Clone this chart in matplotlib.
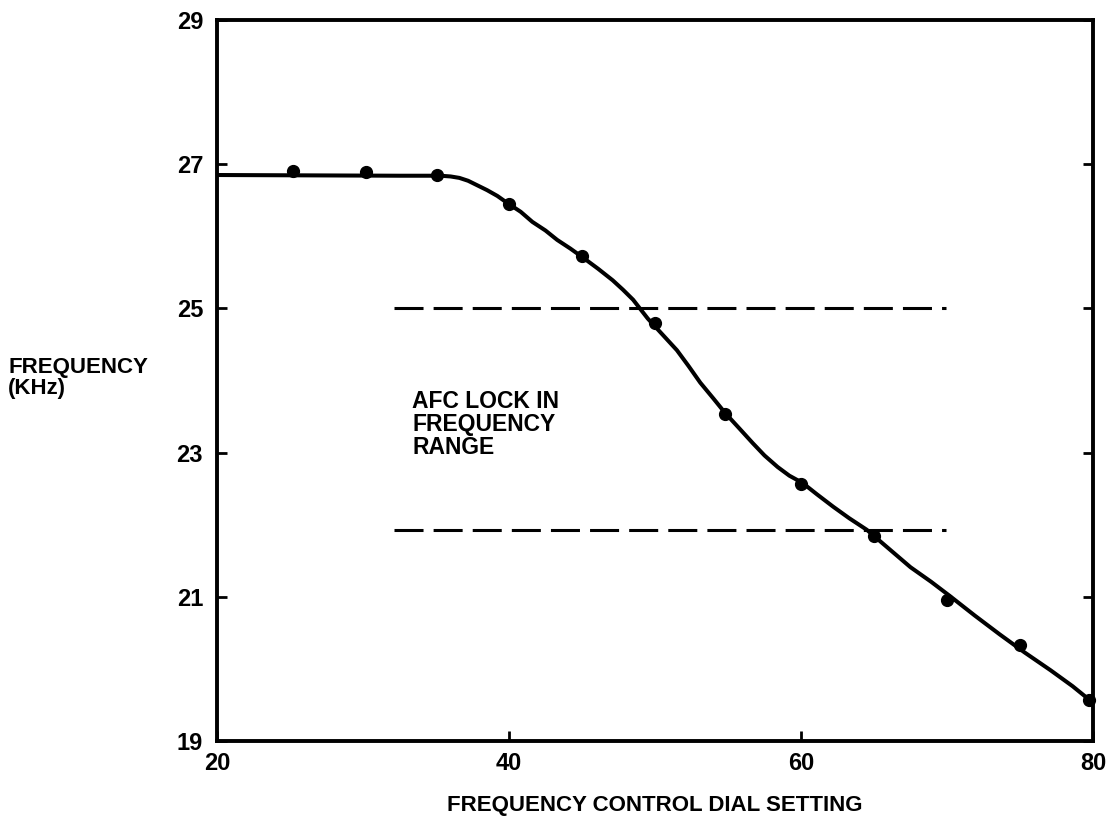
import numpy as np
import matplotlib
matplotlib.use("Agg")
from matplotlib import pyplot as plt

# Measured frequency vs dial setting
dial = [25.2, 30.2, 35.1, 40.0, 45.0, 50.0, 54.8, 60.0, 65.0, 70.0, 75.0, 79.7]
freq = [26.91, 26.89, 26.85, 26.45, 25.73, 24.80, 23.54, 22.56, 21.84, 20.96, 20.33, 19.57]

# Hand-drawn fit through the measurements
fit_x = [20.0, 32.5, 35.3, 36.0, 36.6, 37.2, 37.8, 38.5, 39.2, 39.9, 40.8, 41.6,
         42.5, 43.3, 44.2, 45.1, 46.1, 47.1, 47.8, 48.5, 49.0, 49.5, 50.5,
         51.5, 52.3, 53.1, 54.0, 54.8, 55.8, 56.7, 57.5, 58.4, 59.2, 60.1,
         61.1, 62.2, 63.3, 64.5, 66.0, 67.5, 68.9, 70.2, 71.9, 73.6, 75.3,
         77.1, 78.6, 80.0]
fit_y = [26.85, 26.84, 26.84, 26.83, 26.81, 26.77, 26.71, 26.64, 26.56, 26.46,
         26.34, 26.20, 26.08, 25.95, 25.83, 25.70, 25.55, 25.39, 25.26, 25.12,
         24.99, 24.86, 24.64, 24.42, 24.20, 23.97, 23.75, 23.55, 23.33, 23.13,
         22.96, 22.80, 22.68, 22.58, 22.42, 22.25, 22.09, 21.93, 21.67, 21.41,
         21.21, 21.01, 20.74, 20.48, 20.23, 19.98, 19.76, 19.53]

# AFC lock-in limits
lock_hi = 25.0
lock_lo = 21.93
lock_x = [32.1, 69.9]

xticks = [20, 40, 60, 80]
yticks = [19, 21, 23, 25, 27, 29]

plt.rcParams['font.family'] = ['Liberation Sans', 'DejaVu Sans']
plt.rcParams['font.weight'] = 'bold'

fig = plt.figure(figsize=(11.15, 8.26), dpi=100)
ax = fig.add_axes([0.1946, 0.1029, 0.7857, 0.8729])

ax.plot(fit_x, fit_y, color='black', lw=2.9, solid_joinstyle='round')
ax.plot(dial, freq, 'o', color='black', ms=8.5, clip_on=False)

for level in (lock_hi, lock_lo):
    ax.plot(lock_x, [level, level], color='black', lw=2.2,
            linestyle=(0, (9.5, 3.3)), dash_capstyle='butt')

ax.text(33.36, 23.87, 'AFC LOCK IN\nFREQUENCY\nRANGE', fontsize=16.5,
        fontweight='bold', va='top', ha='left', linespacing=1.0)

ax.set_xlim(20, 80)
ax.set_ylim(19, 29)
ax.set_xticks(xticks)
ax.set_yticks(yticks)
ax.set_xticklabels([str(v) for v in xticks], fontsize=17, fontweight='bold')
ax.set_yticklabels([str(v) for v in yticks], fontsize=17, fontweight='bold')
ax.tick_params(axis='y', direction='in', left=True, right=True, length=7,
               width=2, pad=10)
ax.tick_params(axis='x', direction='in', bottom=True, top=False, length=7,
               width=2, pad=8)

for sp in ax.spines.values():
    sp.set_linewidth(2.8)

fig.text(8 / 1115, 1 - 378 / 826, 'FREQUENCY\n(KHz)', fontsize=16,
         fontweight='bold', ha='left', va='center', linespacing=1.0)
fig.text(655 / 1115, 1 - 805 / 826, 'FREQUENCY CONTROL DIAL SETTING',
         fontsize=16, fontweight='bold', ha='center', va='center')

fig.savefig('out.png', dpi=100, facecolor='white')
